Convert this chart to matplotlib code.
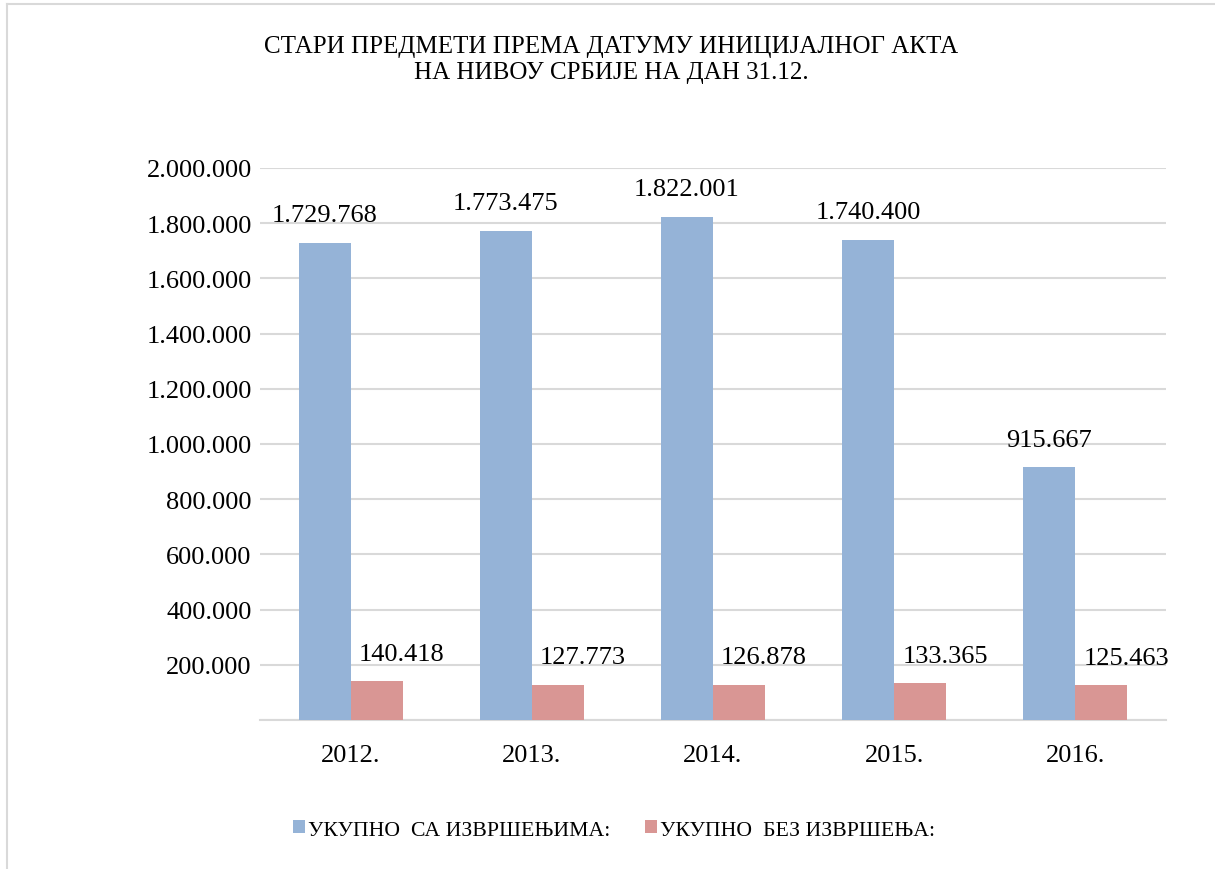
import numpy as np
import matplotlib.pyplot as plt
from matplotlib.lines import Line2D
from matplotlib.patches import Patch
from matplotlib.ticker import FuncFormatter

years = ['2012.', '2013.', '2014.', '2015.', '2016.']
ukupno_sa = [1729768, 1773475, 1822001, 1740400, 915667]
ukupno_bez = [140418, 127773, 126878, 133365, 125463]
series_names = ['УКУПНО  СА ИЗВРШЕЊИМА:', 'УКУПНО  БЕЗ ИЗВРШЕЊА:']

blue = '#95B3D7'
red = '#D99694'
grid_c = '#D9D9D9'

plt.rcParams['font.family'] = ['Liberation Serif', 'DejaVu Serif']


def dotted(v):
    return f'{int(v):,}'.replace(',', '.')


fig = plt.figure(figsize=(12.15, 8.7), dpi=100)
ax = fig.add_axes([260 / 1215, 1 - 721 / 870, 906 / 1215, (721 - 169) / 870])

x = np.arange(len(years))
w = 0.287
b1 = ax.bar(x - w / 2, ukupno_sa, w, color=blue, zorder=3)
b2 = ax.bar(x + w / 2, ukupno_bez, w, color=red, zorder=3)

for rect, v in zip(b1, ukupno_sa):
    ax.annotate(dotted(v), (rect.get_x() + rect.get_width() / 2, v),
                xytext=(0, 12), textcoords='offset points',
                ha='center', va='bottom', fontsize=19)
for rect, v in zip(b2, ukupno_bez):
    ax.annotate(dotted(v), (rect.get_x() + rect.get_width() / 2, v),
                xytext=(18, 12), textcoords='offset points',
                ha='center', va='bottom', fontsize=19)

ax.set_xlim(-0.5, len(years) - 0.5)
ax.set_ylim(0, 2000000)
ax.set_yticks(np.arange(0, 2000001, 200000))
ax.yaxis.set_major_formatter(FuncFormatter(lambda v, p: '' if v == 0 else dotted(v)))
ax.set_xticks(x)
ax.set_xticklabels(years)
ax.tick_params(axis='both', length=0, labelsize=19)
ax.tick_params(axis='x', pad=17)
ax.tick_params(axis='y', pad=6)
ax.grid(axis='y', color=grid_c, linewidth=1.5, zorder=0)
for s in ['top', 'right', 'left']:
    ax.spines[s].set_visible(False)
ax.spines['bottom'].set_color(grid_c)
ax.spines['bottom'].set_linewidth(1.5)

fig.text(611 / 1215, 1 - 60 / 870, 'СТАРИ ПРЕДМЕТИ ПРЕМА ДАТУМУ ИНИЦИЈАЛНОГ АКТА\nНА НИВОУ СРБИЈЕ НА ДАН 31.12.',
         ha='center', va='center', fontsize=18, linespacing=1.25)

handles = [Patch(facecolor=blue), Patch(facecolor=red)]
fig.legend(handles, series_names, loc='center', bbox_to_anchor=(614 / 1215, 1 - 831 / 870),
           ncol=2, frameon=False, fontsize=15.7, handlelength=0.55, handleheight=0.55,
           handletextpad=0.15, columnspacing=1.55)

# chart frame (only top and left edges visible in the reference)
fig.add_artist(Line2D([7 / 1215, 1], [1 - 5 / 870, 1 - 5 / 870], color=grid_c, linewidth=1.5, transform=fig.transFigure))
fig.add_artist(Line2D([7 / 1215, 7 / 1215], [0, 1 - 5 / 870], color=grid_c, linewidth=1.5, transform=fig.transFigure))

fig.savefig('out.png', dpi=100)
